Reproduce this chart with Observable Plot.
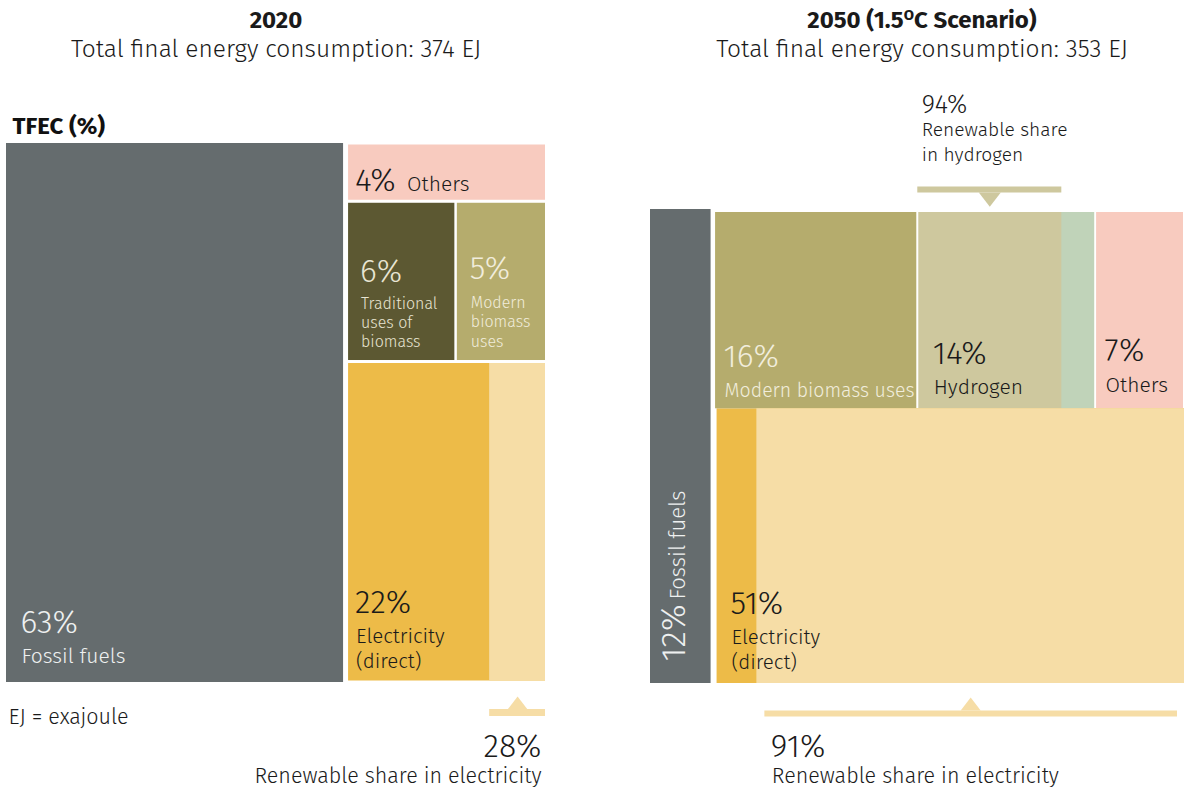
<!DOCTYPE html>
<html>
<head>
<meta charset="utf-8">
<script src="https://cdn.jsdelivr.net/npm/d3@7"></script>
<script src="https://cdn.jsdelivr.net/npm/@observablehq/plot@0.6"></script>
<style>
  body { margin: 0; background: #fff; }
  #wrap { position: relative; width: 1188px; height: 787px; overflow: hidden; font-family: "Fira Sans", "Noto Sans", sans-serif; color: #1a1a1a; }
  .abs { position: absolute; white-space: nowrap; line-height: 1; }
  .ttl { font-weight: 700; font-size: 24px; text-align: center; width: 594px; }
  .sub { font-weight: 300; font-size: 24.5px; text-align: center; width: 594px; }
  .panel { position: absolute; top: 0; }
</style>
</head>
<body>
<div id="wrap"></div>
<script>
// ---------------- DATA ----------------
const years = ["2020", "2050 (1.5°C Scenario)"];
const totalsEJ = [374, 353];

const categories2020 = ["Fossil fuels", "Others", "Traditional uses of biomass", "Modern biomass uses", "Electricity (direct)"];
const shares2020 = [63, 4, 6, 5, 22];
const renewableElectricity2020 = 28;

const categories2050 = ["Fossil fuels", "Modern biomass uses", "Hydrogen", "Others", "Electricity (direct)"];
const shares2050 = [12, 16, 14, 7, 51];
const renewableElectricity2050 = 91;
const renewableHydrogen2050 = 94;
const hydrogenGreenSegment2050 = 19; // % of hydrogen block shown in green

// ---------------- STYLE ----------------
const colorKeys = ["fossil", "others", "trad", "modern", "elec", "elecRen", "hydrogen", "h2green"];
const colorRange = ["#656c6e", "#f8cbbf", "#5c5832", "#b5ac6d", "#edbb48", "#f6dda6", "#cec89e", "#c0d3b9"];
const FONT = '"Fira Sans", "Noto Sans", sans-serif';
const DARK = "#1a1a1a";
const PCT = 32;

// ---------------- LAYOUT (from shares) ----------------
function layout2020() {
  const [fos, oth, trad, mod, elec] = shares2020;
  const rest = oth + trad + mod + elec;
  const hOth = oth / rest * 100;
  const hBio = (trad + mod) / rest * 100;
  const xs = fos + (100 - fos) * trad / (trad + mod);
  const cells = [
    {key: "fossil", name: categories2020[0], share: fos, x1: 0, x2: fos, y1: 0, y2: 100},
    {key: "others", name: categories2020[1], share: oth, x1: fos, x2: 100, y1: 0, y2: hOth},
    {key: "trad", name: categories2020[2], share: trad, x1: fos, x2: xs, y1: hOth, y2: hOth + hBio},
    {key: "modern", name: categories2020[3], share: mod, x1: xs, x2: 100, y1: hOth, y2: hOth + hBio},
    {key: "elec", name: categories2020[4], share: elec, x1: fos, x2: 100, y1: hOth + hBio, y2: 100}
  ];
  const e = cells[4];
  const ren = {key: "elecRen", x1: e.x2 - (e.x2 - e.x1) * renewableElectricity2020 / 100, x2: e.x2, y1: e.y1, y2: e.y2};
  return {cells, subs: [ren], ren};
}
function layout2050() {
  const [fos, mod, hyd, oth, elec] = shares2050;
  const rest = mod + hyd + oth + elec;
  const top = mod + hyd + oth;
  const hTop = top / rest * 100;
  const w = 100 - fos;
  const xm = fos + w * mod / top;
  const xh = xm + w * hyd / top;
  const cells = [
    {key: "fossil", name: categories2050[0], share: fos, x1: 0, x2: fos, y1: 0, y2: 100},
    {key: "modern", name: categories2050[1], share: mod, x1: fos, x2: xm, y1: 0, y2: hTop},
    {key: "hydrogen", name: categories2050[2], share: hyd, x1: xm, x2: xh, y1: 0, y2: hTop},
    {key: "others", name: categories2050[3], share: oth, x1: xh, x2: 100, y1: 0, y2: hTop},
    {key: "elec", name: categories2050[4], share: elec, x1: fos, x2: 100, y1: hTop, y2: 100}
  ];
  const h = cells[2], e = cells[4];
  const green = {key: "h2green", x1: h.x2 - (h.x2 - h.x1) * hydrogenGreenSegment2050 / 100, x2: h.x2, y1: h.y1, y2: h.y2};
  const ren = {key: "elecRen", x1: e.x1 + (e.x2 - e.x1) * (100 - renewableElectricity2050) / 100, x2: e.x2, y1: e.y1, y2: e.y2};
  return {cells, subs: [green, ren], ren, green, hyd: h};
}

// custom triangle symbols
const triUp = {draw(ctx, size) { const r = Math.sqrt(size / Math.PI); ctx.moveTo(-r, 0); ctx.lineTo(0, -1.3 * r); ctx.lineTo(r, 0); ctx.closePath(); }};
const triDown = {draw(ctx, size) { const r = Math.sqrt(size / Math.PI); ctx.moveTo(-r, 0); ctx.lineTo(0, 1.3 * r); ctx.lineTo(r, 0); ctx.closePath(); }};

function label(cell, opts) {
  const lines = opts.nameText.split("\n").length;
  const nameDy = -opts.pb;
  const pctDy = nameDy - (lines - 1) * opts.nameSize * opts.lineH - opts.pctGap;
  return [
    Plot.text([cell], {x: "x1", y: "y2", text: () => opts.nameText, dx: opts.dx, dy: nameDy, textAnchor: "start", lineAnchor: "bottom",
      fontSize: opts.nameSize, lineHeight: opts.lineH, fill: opts.fill, fontFamily: FONT, fontWeight: 300}),
    Plot.text([cell], {x: "x1", y: "y2", text: d => d.share + "%", dx: opts.dx - 1, dy: pctDy, textAnchor: "start", lineAnchor: "bottom",
      fontSize: opts.pctSize || PCT, fill: opts.fill, fontFamily: FONT, fontWeight: 300})
  ];
}

function basePlot(w, m, marks) {
  return Plot.plot({
    width: w, height: 787,
    marginLeft: m[0], marginRight: m[1], marginTop: m[2], marginBottom: m[3],
    x: {domain: [0, 100], axis: null},
    y: {domain: [0, 100], reverse: true, axis: null},
    color: {type: "ordinal", domain: colorKeys, range: colorRange},
    style: {overflow: "visible", fontFamily: FONT, background: "transparent"},
    marks
  });
}

// ---------------- PANEL 2020 ----------------
const L = layout2020();
const c20 = Object.fromEntries(L.cells.map(c => [c.key, c]));
const plot2020 = basePlot(594, [6, 49, 143, 105], [
  Plot.rect(L.cells.filter(c => c.key === "fossil"), {x1: "x1", x2: "x2", y1: "y1", y2: "y2", fill: "key", insetRight: 2.5}),
  Plot.rect(L.cells.filter(c => c.key !== "fossil"), {x1: "x1", x2: "x2", y1: "y1", y2: "y2", fill: "key", insetLeft: 2.5, insetTop: 1.5, insetBottom: 1.5, insetRight: 0}),
  Plot.rect(L.subs, {x1: "x1", x2: "x2", y1: "y1", y2: "y2", fill: "key", insetTop: 1.5, insetBottom: 1.5}),
  ...label(c20.fossil, {dx: 15, pb: 20, nameSize: 21, lineH: 1.2, pctGap: 30, fill: "#eef0f0", nameText: "Fossil fuels"}),
  ...label(c20.trad, {dx: 15, pb: 15, nameSize: 16, lineH: 1.2, pctGap: 27, fill: "#e8e5d3", nameText: "Traditional\nuses of\nbiomass"}),
  ...label(c20.modern, {dx: 16, pb: 15, nameSize: 16, lineH: 1.22, pctGap: 29, fill: "#f1eddc", nameText: "Modern\nbiomass\nuses"}),
  ...label(c20.elec, {dx: 10, pb: 15, nameSize: 20.5, lineH: 1.18, pctGap: 30, fill: DARK, nameText: "Electricity\n(direct)"}),
  // Others inline label
  Plot.text([c20.others], {x: "x1", y: "y2", text: d => d.share + "%", dx: 9, dy: -11, textAnchor: "start", lineAnchor: "bottom", fontSize: PCT, fontWeight: 300, fill: DARK, fontFamily: FONT}),
  Plot.text([c20.others], {x: "x1", y: "y2", text: d => d.name, dx: 61, dy: -11, textAnchor: "start", lineAnchor: "bottom", fontSize: 21, fontWeight: 300, fill: DARK, fontFamily: FONT}),
  // renewable electricity bracket
  Plot.ruleY([L.ren], {x1: "x1", x2: "x2", y: "y2", dy: 30, stroke: "#f6dda6", strokeWidth: 7}),
  Plot.dot([L.ren], {x: d => (d.x1 + d.x2) / 2, y: "y2", dy: 27, r: 10, symbol: triUp, fill: "#f6dda6", stroke: null}),
  Plot.text([L.ren], {x: "x2", y: "y2", text: () => renewableElectricity2020 + "%", dx: -4, dy: 74, textAnchor: "end", lineAnchor: "bottom", fontSize: PCT, fontWeight: 300, fill: DARK, fontFamily: FONT}),
  Plot.text([L.ren], {x: "x2", y: "y2", text: () => "Renewable share in electricity", dx: -4, dy: 100, textAnchor: "end", lineAnchor: "bottom", fontSize: 21.5, fontWeight: 300, fill: DARK, fontFamily: FONT}),
  // header and footnote
  Plot.text(["TFEC (%)"], {x: 0, y: 0, text: d => d, dx: 6, dy: -10, textAnchor: "start", lineAnchor: "bottom", fontSize: 24, fontWeight: 700, fill: "#111", fontFamily: FONT}),
  Plot.text(["EJ = exajoule"], {x: 0, y: 100, text: d => d, dx: 2, dy: 41, textAnchor: "start", lineAnchor: "bottom", fontSize: 21.5, fontWeight: 300, fill: DARK, fontFamily: FONT})
]);

// ---------------- PANEL 2050 ----------------
const R = layout2050();
const c50 = Object.fromEntries(R.cells.map(c => [c.key, c]));
const h2ren = {x1: R.hyd.x1, x2: R.green.x1, y1: 0, y2: 0};
const plot2050 = basePlot(594, [56, 4, 209, 104], [
  Plot.rect(R.cells.filter(c => c.key === "fossil"), {x1: "x1", x2: "x2", y1: "y1", y2: "y2", fill: "key", insetRight: 3.5}),
  Plot.rect(R.cells.filter(c => c.key === "elec"), {x1: "x1", x2: "x2", y1: "y1", y2: "y2", fill: "key", insetLeft: 2.5}),
  Plot.rect(R.cells.filter(c => c.key !== "fossil" && c.key !== "elec"), {x1: "x1", x2: "x2", y1: "y1", y2: "y2", fill: "key", insetLeft: 1, insetRight: 1, insetTop: 3, insetBottom: 0}),
  Plot.rect([R.green], {x1: "x1", x2: "x2", y1: "y1", y2: "y2", fill: "key", insetRight: 1, insetTop: 3}),
  Plot.rect([R.ren], {x1: "x1", x2: "x2", y1: "y1", y2: "y2", fill: "key"}),
  ...label(c50.modern, {dx: 10, pb: 12, nameSize: 19.5, lineH: 1.2, pctGap: 30, fill: "#f1eddc", nameText: "Modern biomass uses"}),
  ...label(c50.hydrogen, {dx: 16, pb: 15, nameSize: 21, lineH: 1.2, pctGap: 30, fill: DARK, nameText: "Hydrogen"}),
  ...label(c50.others, {dx: 10, pb: 17, nameSize: 21, lineH: 1.2, pctGap: 31, fill: DARK, nameText: "Others"}),
  ...label(c50.elec, {dx: 17, pb: 15, nameSize: 20.5, lineH: 1.18, pctGap: 30, fill: DARK, nameText: "Electricity\n(direct)"}),
  // rotated fossil label
  Plot.text([c50.fossil], {x: "x1", y: "y2", text: d => d.share + "%", dx: 34, dy: -22, rotate: -90, textAnchor: "start", lineAnchor: "bottom", fontSize: 34, fontWeight: 300, fill: "#eef0f0", fontFamily: FONT}),
  Plot.text([c50.fossil], {x: "x1", y: "y2", text: d => d.name, dx: 34, dy: -84, rotate: -90, textAnchor: "start", lineAnchor: "bottom", fontSize: 22, fontWeight: 300, fill: "#eef0f0", fontFamily: FONT}),
  // hydrogen bracket
  Plot.ruleY([h2ren], {x1: "x1", x2: "x2", y: 0, dy: -20, stroke: "#cec89e", strokeWidth: 6}),
  Plot.dot([h2ren], {x: d => (d.x1 + d.x2) / 2, y: 0, dy: -17, r: 11, symbol: triDown, fill: "#cec89e", stroke: null}),
  Plot.text([h2ren], {x: "x1", y: 0, text: () => renewableHydrogen2050 + "%", dx: 4, dy: -97, textAnchor: "start", lineAnchor: "bottom", fontSize: 25.5, fontWeight: 300, fill: DARK, fontFamily: FONT}),
  Plot.text([h2ren], {x: "x1", y: 0, text: () => "Renewable share\nin hydrogen", dx: 4, dy: -49, textAnchor: "start", lineAnchor: "bottom", fontSize: 19.2, lineHeight: 1.3, fontWeight: 300, fill: DARK, fontFamily: FONT}),
  // renewable electricity bracket
  Plot.ruleY([R.ren], {x1: "x1", x2: "x2", y: "y2", dy: 30, insetLeft: 8, insetRight: 7, stroke: "#f6dda6", strokeWidth: 6}),
  Plot.dot([R.ren], {x: d => (d.x1 + d.x2) / 2, y: "y2", dy: 27, r: 10, symbol: triUp, fill: "#f6dda6", stroke: null}),
  Plot.text([R.ren], {x: "x1", y: "y2", text: () => renewableElectricity2050 + "%", dx: 14, dy: 73, textAnchor: "start", lineAnchor: "bottom", fontSize: PCT, fontWeight: 300, fill: DARK, fontFamily: FONT}),
  Plot.text([R.ren], {x: "x1", y: "y2", text: () => "Renewable share in electricity", dx: 15, dy: 99, textAnchor: "start", lineAnchor: "bottom", fontSize: 21.5, fontWeight: 300, fill: DARK, fontFamily: FONT})
]);

// ---------------- ASSEMBLE ----------------
const wrap = document.getElementById("wrap");
const p1 = document.createElement("div"); p1.className = "panel"; p1.style.left = "0px"; p1.appendChild(plot2020);
const p2 = document.createElement("div"); p2.className = "panel"; p2.style.left = "594px"; p2.appendChild(plot2050);
wrap.appendChild(p1); wrap.appendChild(p2);

function addTitle(text, html, left, top, cls) {
  const d = document.createElement("div");
  d.className = "abs " + cls;
  d.style.left = left + "px"; d.style.top = top + "px";
  if (html) d.innerHTML = html; else d.textContent = text;
  wrap.appendChild(d);
}
addTitle(years[0], null, -21, 8, "ttl");
addTitle(null, '2050 (1.5<span style="font-size:0.62em;vertical-align:0.55em">O</span>C Scenario)', 625, 8, "ttl");
addTitle("Total final energy consumption: " + totalsEJ[0] + " EJ", null, -21, 37, "sub");
addTitle("Total final energy consumption: " + totalsEJ[1] + " EJ", null, 625, 37, "sub");
</script>
</body>
</html>
